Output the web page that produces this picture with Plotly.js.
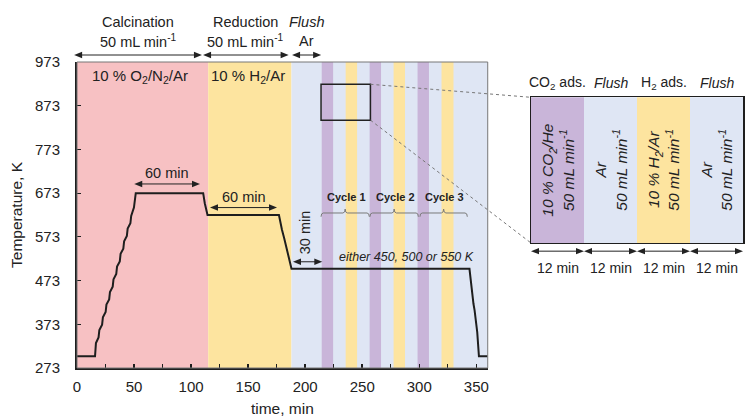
<!DOCTYPE html>
<html><head><meta charset="utf-8">
<script src="https://cdn.plot.ly/plotly-3.0.1.min.js"></script>
<style>html,body{margin:0;padding:0;background:#fff}</style>
</head><body><div id="chart" style="width:745px;height:418px"></div>
<script>
// ---- data ----
const timeMin = [0, 15.8, 16.6, 18.9, 19.6, 22.0, 22.7, 25.1, 25.8, 28.2, 28.9, 31.3, 32.0, 34.4, 35.1, 37.5, 38.2, 40.6, 41.3, 43.7, 44.4, 46.8, 47.5, 49.9, 51.5,
  110.6, 112.0, 112.8, 114.4, 177.0, 178.6, 179.6, 181.6, 182.6, 184.6, 185.6, 188.0,
  344.0, 345.2, 346.3, 347.5, 348.5, 349.8, 350.8, 352.3, 360];
const tempK = [300, 300, 330, 343, 360, 372, 389, 401, 418, 430, 447, 459, 476, 488, 505, 517, 534, 546, 563, 575, 592, 604, 621, 640, 673,
  673, 650, 640, 623, 623, 598, 590, 570, 560, 535, 525, 500,
  500, 470, 455, 420, 405, 372, 355, 300, 300];

const stageStart = [0, 115, 188, 214.5, 235.5, 256.5, 277.5, 298.5, 319.5];
const stageEnd   = [115, 188, 360, 224.5, 245.5, 266.5, 287.5, 308.5, 330];
const stageGas   = ['O2', 'H2', 'Ar', 'CO2', 'H2', 'CO2', 'H2', 'CO2', 'H2'];
const gasColor = {O2: '#f7c1c3', H2: '#fde49f', Ar: '#dfe6f4', CO2: '#c9b5d9'};

const phaseTitle = ['Calcination', 'Reduction', '<i>Flush</i>'];
const phaseSub   = ['50 mL min<sup>-1</sup>', '50 mL min<sup>-1</sup>', 'Ar'];
const phaseStart = [-2.5, 110.5, 188.5];
const phaseEnd   = [109.5, 185.5, 214];
const phaseArrowT = 989;

const gasLabel = ['10 % O<sub>2</sub>/N<sub>2</sub>/Ar', '10 % H<sub>2</sub>/Ar'];
const gasLabelX = [55, 150];
const gasLabelT = 939;

const holdLabel = ['60 min', '60 min'];
const holdStart = [50.2, 116.6];
const holdEnd   = [107.8, 175.3];
const holdT     = [694, 640];

const flushArrow = [189.3, 215, 516];
const setpointText = '<i>either 450, 500 or 550 K</i>';

const cycleLabels = ['Cycle 1', 'Cycle 2', 'Cycle 3'];
const cycleStart  = [213.9, 256.8, 300.6];
const cycleEnd    = [256.2, 299.2, 342.1];

const zoomX = [213.9, 257.2];
const zoomT = [840, 922];

const insetHeader = ['CO<sub>2</sub> ads.', '<i>Flush</i>', 'H<sub>2</sub> ads.', '<i>Flush</i>'];
const insetGas    = ['CO2', 'Ar', 'H2', 'Ar'];
const insetText   = ['10 % CO<sub>2</sub>/He<br>50 mL min<sup>-1</sup>', 'Ar<br>50 mL min<sup>-1</sup>',
                     '10 % H<sub>2</sub>/Ar<br>50 mL min<sup>-1</sup>', 'Ar<br>50 mL min<sup>-1</sup>'];
const insetDuration = [12, 12, 12, 12];
const insetArrowY = -0.056;

// ---- layout helpers ----
const FONT = '"Liberation Sans", Arial, Helvetica, sans-serif';
const INK = '#1e1e1e';
const W = 745, H = 418, ML = 77, MR = 2, MT = 62, MB = 50;
const PW = W - ML - MR, PH = H - MT - MB;
const mainDom = [0, 0.6167];
const insetXDom = [0.6817, 1];
const insetYDom = [0.4085, 0.8846];
const X0 = 0, X1 = 360, T0 = 273, T1 = 973;

const insetStart = [], insetEnd = [], insetMid = [];
let acc = 0;
insetDuration.forEach(d => { insetStart.push(acc); insetMid.push(acc + d / 2); acc += d; insetEnd.push(acc); });
const IX1 = acc;

const conv = {
  main: {x: v => mainDom[0] + (v - X0) / (X1 - X0) * (mainDom[1] - mainDom[0]),
         y: v => (v - T0) / (T1 - T0)},
  inset: {x: v => insetXDom[0] + v / IX1 * (insetXDom[1] - insetXDom[0]),
          y: v => insetYDom[0] + v * (insetYDom[1] - insetYDom[0])}
};

function txt(text, xref, x, yref, y, size, extra) {
  return Object.assign({xref: xref, yref: yref, x: x, y: y, text: text, showarrow: false,
    font: {family: FONT, size: size, color: '#222'}, xanchor: 'center', yanchor: 'middle'}, extra || {});
}

const shapes = [];
stageStart.forEach((s, i) => shapes.push({type: 'rect', xref: 'x', yref: 'y domain', x0: s, x1: stageEnd[i], y0: 0, y1: 1,
  fillcolor: gasColor[stageGas[i]], line: {width: 0}, layer: 'below'}));
shapes.push({type: 'rect', xref: 'x domain', yref: 'y domain', x0: 0, x1: 1, y0: 0, y1: 1, line: {color: '#777', width: 1}, layer: 'above'});
shapes.push({type: 'rect', xref: 'x', yref: 'y', x0: zoomX[0], x1: zoomX[1], y0: zoomT[0], y1: zoomT[1], line: {color: '#222', width: 1.5}, layer: 'above'});
shapes.push({type: 'line', xref: 'paper', yref: 'paper', x0: conv.main.x(zoomX[1]), y0: conv.main.y(zoomT[1]), x1: insetXDom[0], y1: insetYDom[1], line: {color: '#777', width: 1, dash: 'dot'}});
shapes.push({type: 'line', xref: 'paper', yref: 'paper', x0: conv.main.x(zoomX[1]), y0: conv.main.y(zoomT[0]), x1: insetXDom[0], y1: insetYDom[0], line: {color: '#777', width: 1, dash: 'dot'}});
const yLine = 627.6, yEnd = 619, yTip = 636.7;
cycleStart.forEach((a, i) => {
  const b = cycleEnd[i], m = (a + b) / 2;
  const p = `M ${a},${yEnd} Q ${a},${yLine} ${a + 2},${yLine} L ${m - 2},${yLine} Q ${m},${yLine} ${m},${yTip} ` +
            `Q ${m},${yLine} ${m + 2},${yLine} L ${b - 2},${yLine} Q ${b},${yLine} ${b},${yEnd}`;
  shapes.push({type: 'path', xref: 'x', yref: 'y', path: p, line: {color: '#7a7a7a', width: 1}, layer: 'above'});
});

// double-headed arrows: shaft and triangular heads in paper space
const HL = 8 / PW, HW = 3.2 / PH;
function dblArrow(sys, xa, xb, yv) {
  const c = conv[sys], pa = c.x(xa), pb = c.x(xb), py = c.y(yv);
  shapes.push({type: 'line', xref: 'paper', yref: 'paper', x0: pa + HL * 0.5, x1: pb - HL * 0.5, y0: py, y1: py,
    line: {color: '#222', width: 1}, layer: 'above'});
  shapes.push({type: 'path', xref: 'paper', yref: 'paper', layer: 'above', fillcolor: '#222', line: {width: 0},
    path: `M ${pa},${py} L ${pa + HL},${py + HW} L ${pa + HL},${py - HW} Z`});
  shapes.push({type: 'path', xref: 'paper', yref: 'paper', layer: 'above', fillcolor: '#222', line: {width: 0},
    path: `M ${pb},${py} L ${pb - HL},${py + HW} L ${pb - HL},${py - HW} Z`});
}

const ann = [];
phaseTitle.forEach((t, i) => {
  const c = (phaseStart[i] + phaseEnd[i]) / 2;
  ann.push(txt(t, 'x', c, 'paper', 1.131, 14.5));
  ann.push(txt(phaseSub[i], 'x', c, 'paper', 1.067, 14.5));
  dblArrow('main', phaseStart[i], phaseEnd[i], phaseArrowT);
});
gasLabel.forEach((t, i) => ann.push(txt(t, 'x', gasLabelX[i], 'y', gasLabelT, 15)));
holdLabel.forEach((t, i) => {
  ann.push(txt(t, 'x', (holdStart[i] + holdEnd[i]) / 2, 'y', holdT[i] + 25, 14.5));
  dblArrow('main', holdStart[i], holdEnd[i], holdT[i]);
});
ann.push(txt('30 min', 'x', 200, 'y', 584, 14.5, {textangle: -90}));
dblArrow('main', flushArrow[0], flushArrow[1], flushArrow[2]);
ann.push(txt(setpointText, 'x', 289, 'y', 528, 12.5));
cycleLabels.forEach((t, i) => ann.push(txt('<b>' + t + '</b>', 'x', (cycleStart[i] + cycleEnd[i]) / 2 + 1, 'y', 665, 11)));
insetText.forEach((t, i) => {
  ann.push(txt('<i>' + t + '</i>', 'x2', insetMid[i], 'y2', 0.5, 15.5, {textangle: -90}));
  ann.push(txt(insetHeader[i], 'x2', insetMid[i], 'paper', 0.932, 14));
  dblArrow('inset', insetStart[i], insetEnd[i], insetArrowY);
  ann.push(txt(insetDuration[i] + ' min', 'x2', insetMid[i], 'paper', 0.327, 14));
});

const traces = [
  {type: 'bar', x: insetMid, y: insetDuration.map(() => 1), width: insetDuration, xaxis: 'x2', yaxis: 'y2',
   marker: {color: insetGas.map(g => gasColor[g]), line: {width: 0}}, hoverinfo: 'skip', showlegend: false},
  {type: 'scatter', mode: 'lines', x: timeMin, y: tempK, line: {color: INK, width: 2}, showlegend: false, hoverinfo: 'skip'}
];

const layout = {
  width: W, height: H, margin: {l: ML, r: MR, t: MT, b: MB},
  paper_bgcolor: '#fff', plot_bgcolor: 'rgba(0,0,0,0)', showlegend: false, bargap: 0,
  font: {family: FONT, size: 15, color: '#222'},
  xaxis: {domain: mainDom, range: [X0, X1], anchor: 'y', tickvals: [0, 50, 100, 150, 200, 250, 300, 350],
    ticks: 'inside', ticklen: 4, tickwidth: 1.5, tickcolor: INK, showline: true, linecolor: INK, linewidth: 2,
    showgrid: false, zeroline: false, ticklabelstandoff: 4, tickfont: {size: 15},
    minor: {ticks: 'inside', ticklen: 4, tickwidth: 1.2, tickcolor: INK, dtick: 25, tick0: 0, showgrid: false},
    title: {text: 'time, min', font: {size: 15.5}, standoff: 9}},
  yaxis: {range: [T0, T1], tick0: 273, dtick: 100, ticks: 'inside', ticklen: 4, tickwidth: 1.2, tickcolor: INK,
    showline: true, linecolor: INK, linewidth: 2, showgrid: false, zeroline: false, ticklabelstandoff: 12,
    tickfont: {size: 15}, title: {text: 'Temperature, K', font: {size: 15.5}, standoff: 9}},
  xaxis2: {domain: insetXDom, range: [0, IX1], anchor: 'y2', showline: true, mirror: true, linecolor: INK, linewidth: 1.5,
    showticklabels: false, ticks: '', showgrid: false, zeroline: false, fixedrange: true},
  yaxis2: {domain: insetYDom, range: [0, 1], anchor: 'x2', showline: true, mirror: true, linecolor: INK, linewidth: 1.5,
    showticklabels: false, ticks: '', showgrid: false, zeroline: false, fixedrange: true},
  shapes: shapes, annotations: ann
};
Plotly.newPlot('chart', traces, layout, {displayModeBar: false, staticPlot: true});
</script></body></html>
